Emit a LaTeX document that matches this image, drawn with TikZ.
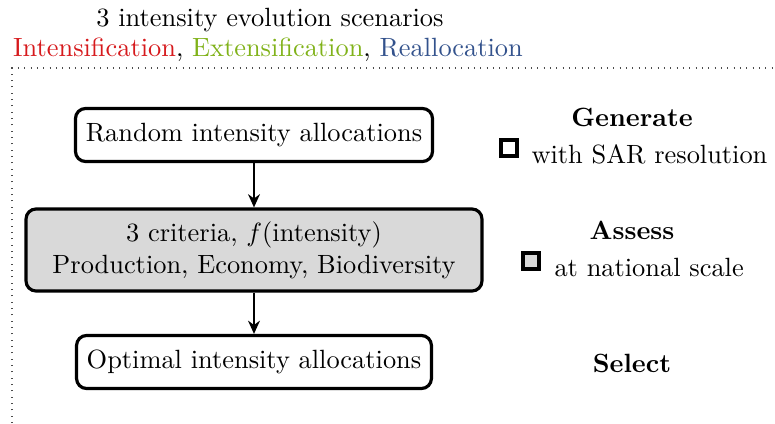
\documentclass[tikz,border=0pt]{standalone}
\usetikzlibrary{arrows.meta}
\definecolor{scenred}{rgb}{0.84,0.10,0.11}
\definecolor{scengreen}{rgb}{0.50,0.70,0.10}
\definecolor{scenblue}{rgb}{0.20,0.32,0.55}
\definecolor{critgray}{gray}{0.85}
\tikzset{
  stepbox/.style={draw, very thick, rounded corners=3.8pt, fill=white, align=center, inner sep=2pt},
  legbox/.style={draw, very thick, minimum size=6.1pt, inner sep=0pt},
  flow/.style={-{Stealth[length=5pt,width=4.5pt]}, thick}
}
\begin{document}
\begin{tikzpicture}[x=0.379pt, y=0.379pt]
\useasboundingbox (0,0) rectangle (775,423);

% scenarios
\node (title) at (270,403) {3 intensity evolution scenarios};
\node (scen) at (268,373) {\textcolor{scenred}{Intensification}, \textcolor{scengreen}{Extensification}, \textcolor{scenblue}{Reallocation}};

\draw[dotted, black!70] (12,0) -- (12,355) -- (775,355);

% steps
\node[stepbox, minimum width=135.3pt, minimum height=20.1pt] (random) at (254,288) {Random intensity allocations};
\node[stepbox, fill=critgray, minimum width=172.8pt, minimum height=31.1pt] (crit) at (254,173) {3 criteria, $f$(intensity)\\Production, Economy, Biodiversity};
\node[stepbox, minimum width=134.5pt, minimum height=20.1pt] (optim) at (254,61) {Optimal intensity allocations};

\draw[flow] (random) -- (crit);
\draw[flow] (crit) -- (optim);

% legend
\node[font=\bfseries] (gen) at (632,306) {Generate};
\node[legbox, fill=white] (sqsar) at (509,275) {};
\node[anchor=west, inner sep=0pt] (sar) at (531,269) {with SAR resolution};

\node[font=\bfseries] (ass) at (632,193) {Assess};
\node[legbox, fill=critgray] (sqnat) at (531,162) {};
\node[anchor=west, inner sep=0pt] (nat) at (554,156) {at national scale};

\node[font=\bfseries] (sel) at (632,60) {Select};

\end{tikzpicture}
\end{document}
